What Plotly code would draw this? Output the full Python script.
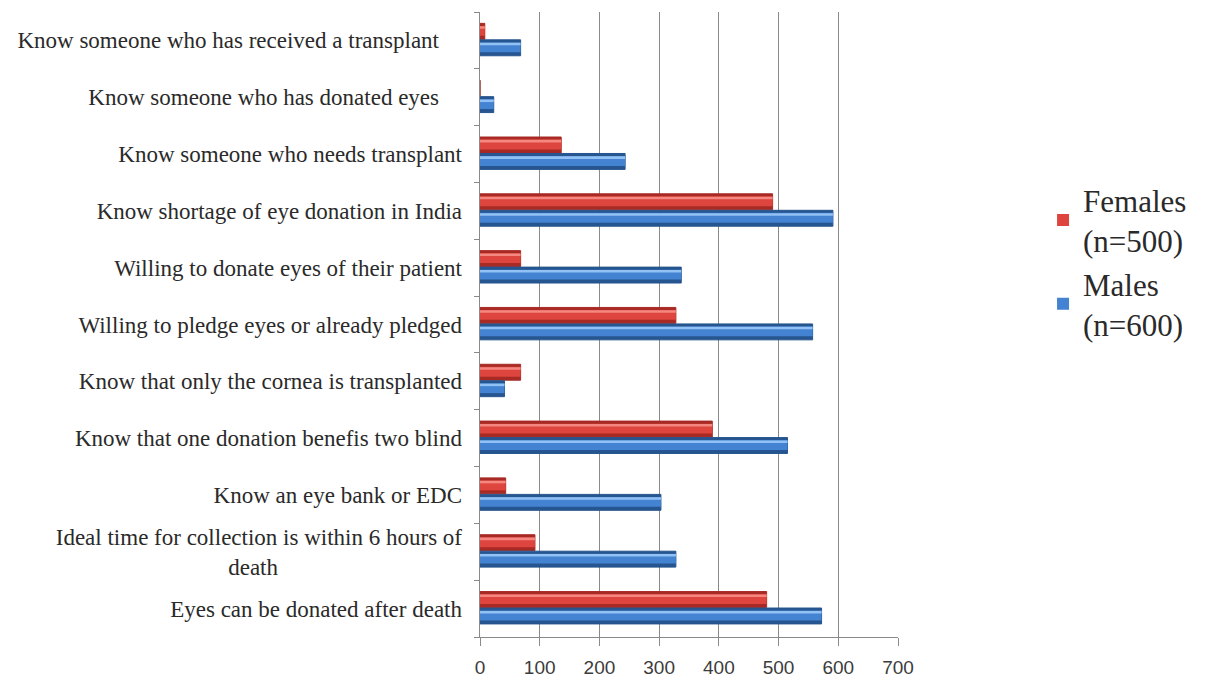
import plotly.graph_objects as go

NB = "\u00a0"

categories = [
    "Eyes can be donated after death",
    "Ideal time for collection is within 6 hours of<br>death" + NB * 32,
    "Know an eye bank or EDC",
    "Know that one donation benefis two blind",
    "Know that only the cornea is transplanted",
    "Willing to pledge eyes or already pledged",
    "Willing to donate eyes of their patient",
    "Know shortage of eye donation in India",
    "Know someone who needs transplant",
    "Know someone who has donated eyes" + NB * 4,
    "Know someone who has received a transplant" + NB * 4,
]
females = [480, 92, 43, 389, 68, 328, 68, 490, 136, 0, 8]
males = [572, 328, 303, 515, 41, 557, 337, 591, 243, 23, 68]
x_ticks = [0, 100, 200, 300, 400, 500, 600, 700]

pos = list(range(len(categories)))
bar_w = 0.28

series = [
    # name, values, offset, (dark, mid, light)
    ("Females<br>(n=500)", females, 0.02, ("#a82a25", "#dd453e", "#f4877f")),
    ("Males<br>(n=600)", males, -0.27, ("#26558f", "#4383d2", "#92c1f3")),
]

fig = go.Figure()
for rank, (name, vals, off, (dark, mid, light)) in enumerate(series):
    # shaded body: dark base, saturated middle, light top stripe
    fig.add_trace(go.Bar(
        x=vals, y=pos, orientation="h", width=bar_w, offset=off,
        marker=dict(color=dark, line=dict(color=dark, width=1)),
        showlegend=False, hoverinfo="skip",
    ))
    fig.add_trace(go.Bar(
        x=vals, y=pos, orientation="h", width=bar_w * 0.62, offset=off + bar_w * 0.22,
        marker=dict(color=mid, line=dict(width=0)),
        name=name, legendrank=rank + 1, showlegend=True,
    ))
    fig.add_trace(go.Bar(
        x=vals, y=pos, orientation="h", width=bar_w * 0.16, offset=off + bar_w * 0.66,
        marker=dict(color=light, line=dict(width=0)),
        showlegend=False, hoverinfo="skip",
    ))

# empty trace carrying the category-boundary tick axis
fig.add_trace(go.Scatter(x=[None], y=[None], yaxis="y2", showlegend=False, hoverinfo="skip"))

grid = "#8a8a8a"
fig.update_layout(
    width=1211, height=681,
    margin=dict(l=480, r=313, t=12, b=44, autoexpand=False),
    barmode="overlay",
    plot_bgcolor="white", paper_bgcolor="white",
    xaxis=dict(
        range=[0, 700], tickvals=x_ticks, showgrid=True, gridcolor=grid, gridwidth=1,
        zeroline=False, showline=True, linecolor=grid, linewidth=1, automargin=False,
        ticks="outside", ticklen=8, tickcolor=grid, ticklabelstandoff=5,
        tickfont=dict(family="Liberation Sans", size=19, color="#3c3c3c"),
    ),
    yaxis=dict(
        range=[-0.5, len(categories) - 0.5], tickvals=pos, ticktext=categories,
        showgrid=False, zeroline=False, showline=False, ticks="", automargin=False,
        ticklabelstandoff=17,
        tickfont=dict(family="Liberation Serif", size=23, color="#2a2a2a"),
    ),
    yaxis2=dict(
        overlaying="y", side="left", range=[-0.5, len(categories) - 0.5],
        tickvals=[p - 0.5 for p in pos] + [len(categories) - 0.5], automargin=False,
        showticklabels=False, ticks="outside", ticklen=5, tickcolor=grid,
        showline=True, linecolor=grid, linewidth=1, showgrid=False, zeroline=False,
    ),
    legend=dict(
        x=1.347, y=0.742, xanchor="left", yanchor="top",
        font=dict(family="Liberation Serif", size=31, color="#2a2a2a"),
        bgcolor="rgba(0,0,0,0)", itemsizing="constant", tracegroupgap=0,
    ),
    showlegend=True,
)

fig.write_html("out.html")
